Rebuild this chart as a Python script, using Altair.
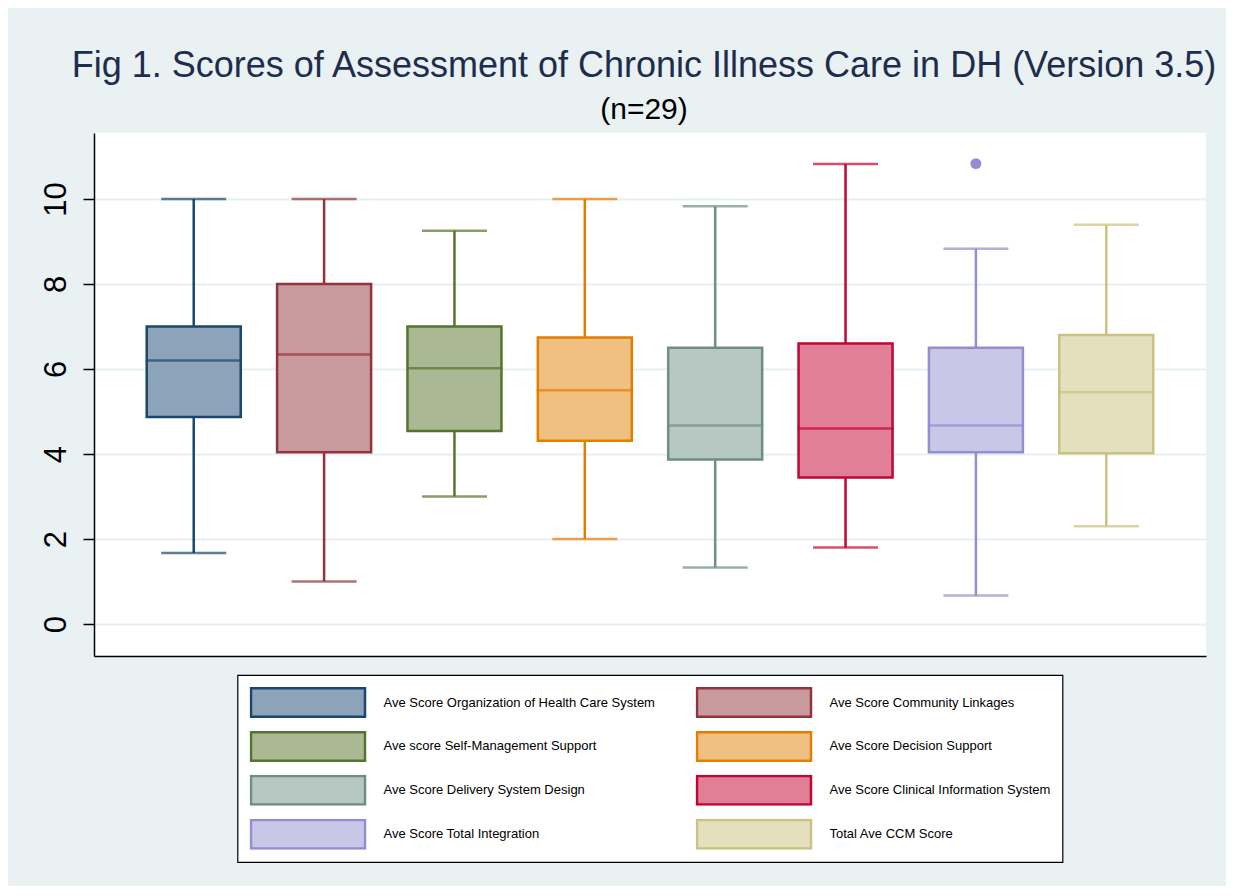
import altair as alt
import pandas as pd

categories = [
    "Ave Score Organization of Health Care System",
    "Ave Score Community Linkages",
    "Ave score Self-Management Support",
    "Ave Score Decision Support",
    "Ave Score Delivery System Design",
    "Ave Score Clinical Information System",
    "Ave Score Total Integration",
    "Total Ave CCM Score",
]
whisker_low = [1.67, 1.0, 3.0, 2.0, 1.33, 1.8, 0.67, 2.3]
q1 = [4.87, 4.04, 4.54, 4.31, 3.87, 3.45, 4.04, 4.02]
median = [6.2, 6.34, 6.02, 5.5, 4.67, 4.6, 4.67, 5.45]
q3 = [7.0, 8.0, 7.0, 6.74, 6.5, 6.6, 6.5, 6.8]
whisker_high = [10.0, 10.0, 9.25, 10.0, 9.83, 10.82, 8.83, 9.39]
outlier_category = ["Ave Score Total Integration"]
outlier_value = [10.83]

line_colors = ["#1a476f", "#90353b", "#55752f", "#e37e00", "#6e8e84", "#c10534", "#938dd2", "#cac27e"]
fill_colors = ["#8da3b9", "#c99a9d", "#aab993", "#f0bf82", "#b7c7c1", "#e07f96", "#c9c6e8", "#e4e0be"]
y_ticks = [0, 2, 4, 6, 8, 10]

title_text = "Fig 1. Scores of Assessment of Chronic Illness Care in DH (Version 3.5)"
subtitle_text = "(n=29)"

FONT = "Liberation Sans"

df = pd.DataFrame({
    "category": categories,
    "low": whisker_low,
    "q1": q1,
    "median": median,
    "q3": q3,
    "high": whisker_high,
    "line": line_colors,
})
color_of = dict(zip(categories, line_colors))
out_df = pd.DataFrame({
    "category": outlier_category,
    "value": outlier_value,
    "line": [color_of[c] for c in outlier_category],
})

x_enc = alt.X(
    "category:N",
    sort=categories,
    scale=alt.Scale(domain=categories, paddingInner=0, paddingOuter=0.265),
    axis=alt.Axis(labels=False, ticks=False, title=None, grid=False,
                  domainColor="black", domainWidth=1.5),
)
y_scale = alt.Scale(domain=[-0.75, 11.55], nice=False, zero=False)
y_axis = alt.Axis(
    values=y_ticks, title=None, labelAngle=270, labelFontSize=31, labelFont=FONT,
    labelColor="black", tickColor="black", tickSize=11, tickWidth=1.5,
    domainColor="black", domainWidth=1.5, labelPadding=11,
    grid=True, gridColor="#e6eff1", gridWidth=2,
)

legend = alt.Legend(
    title=None, orient="none", legendX=143.5, legendY=542,
    direction="horizontal", columns=2,
    symbolType="M-1,-0.25H1V0.25H-1Z", symbolSize=12996, symbolStrokeWidth=2.5,
    symbolOpacity=1, clipHeight=31, rowPadding=12.9, columnPadding=40,
    labelOffset=17, labelFontSize=13, labelFont=FONT, labelColor="black",
    labelLimit=600, padding=12, strokeColor="black", fillColor="white",
)

base = alt.Chart(df)

whiskers = base.mark_rule(strokeWidth=2.5).encode(
    x=x_enc,
    y=alt.Y("low:Q", scale=y_scale, axis=y_axis),
    y2="high:Q",
    stroke=alt.Stroke("line:N", scale=None),
)
cap_low = base.mark_tick(size=65, thickness=2.5, orient="horizontal").encode(
    x=x_enc, y=alt.Y("low:Q", scale=y_scale),
    color=alt.Color("line:N", scale=None),
)
cap_high = base.mark_tick(size=65, thickness=2.5, orient="horizontal").encode(
    x=x_enc, y=alt.Y("high:Q", scale=y_scale),
    color=alt.Color("line:N", scale=None),
)
boxes = base.mark_bar(width=94, strokeWidth=2.5, opacity=1).encode(
    x=x_enc,
    y=alt.Y("q1:Q", scale=y_scale),
    y2="q3:Q",
    fill=alt.Fill("category:N", scale=alt.Scale(domain=categories, range=fill_colors),
                  sort=categories, legend=legend),
    stroke=alt.Stroke("category:N", scale=alt.Scale(domain=categories, range=line_colors),
                      sort=categories, legend=legend),
)
medians = base.mark_tick(size=96, thickness=2.5, orient="horizontal").encode(
    x=x_enc, y=alt.Y("median:Q", scale=y_scale),
    color=alt.Color("line:N", scale=None),
)
outliers = alt.Chart(out_df).mark_circle(size=120, opacity=1).encode(
    x=x_enc, y=alt.Y("value:Q", scale=y_scale),
    color=alt.Color("line:N", scale=None),
)

chart = alt.layer(whiskers, cap_low, cap_high, boxes, medians, outliers).properties(
    width=1112,
    height=523,
    title=alt.TitleParams(
        text=title_text, subtitle=subtitle_text, anchor="middle", frame="group",
        font=FONT, fontSize=36, fontWeight="normal", color="#1f2d4d",
        subtitleFont=FONT, subtitleFontSize=30, subtitleColor="black",
        offset=7, subtitlePadding=10, dx=-6,
    ),
    autosize=alt.AutoSizeParams(type="none"),
    padding={"left": 86, "top": 125, "right": 20, "bottom": 230},
).configure(
    background="#e9f1f3",
).configure_view(
    fill="white", stroke=None,
).configure_legend(
    strokeWidth=1.2,
)

chart.save("out.html", embed_options={"renderer": "svg", "actions": False})
